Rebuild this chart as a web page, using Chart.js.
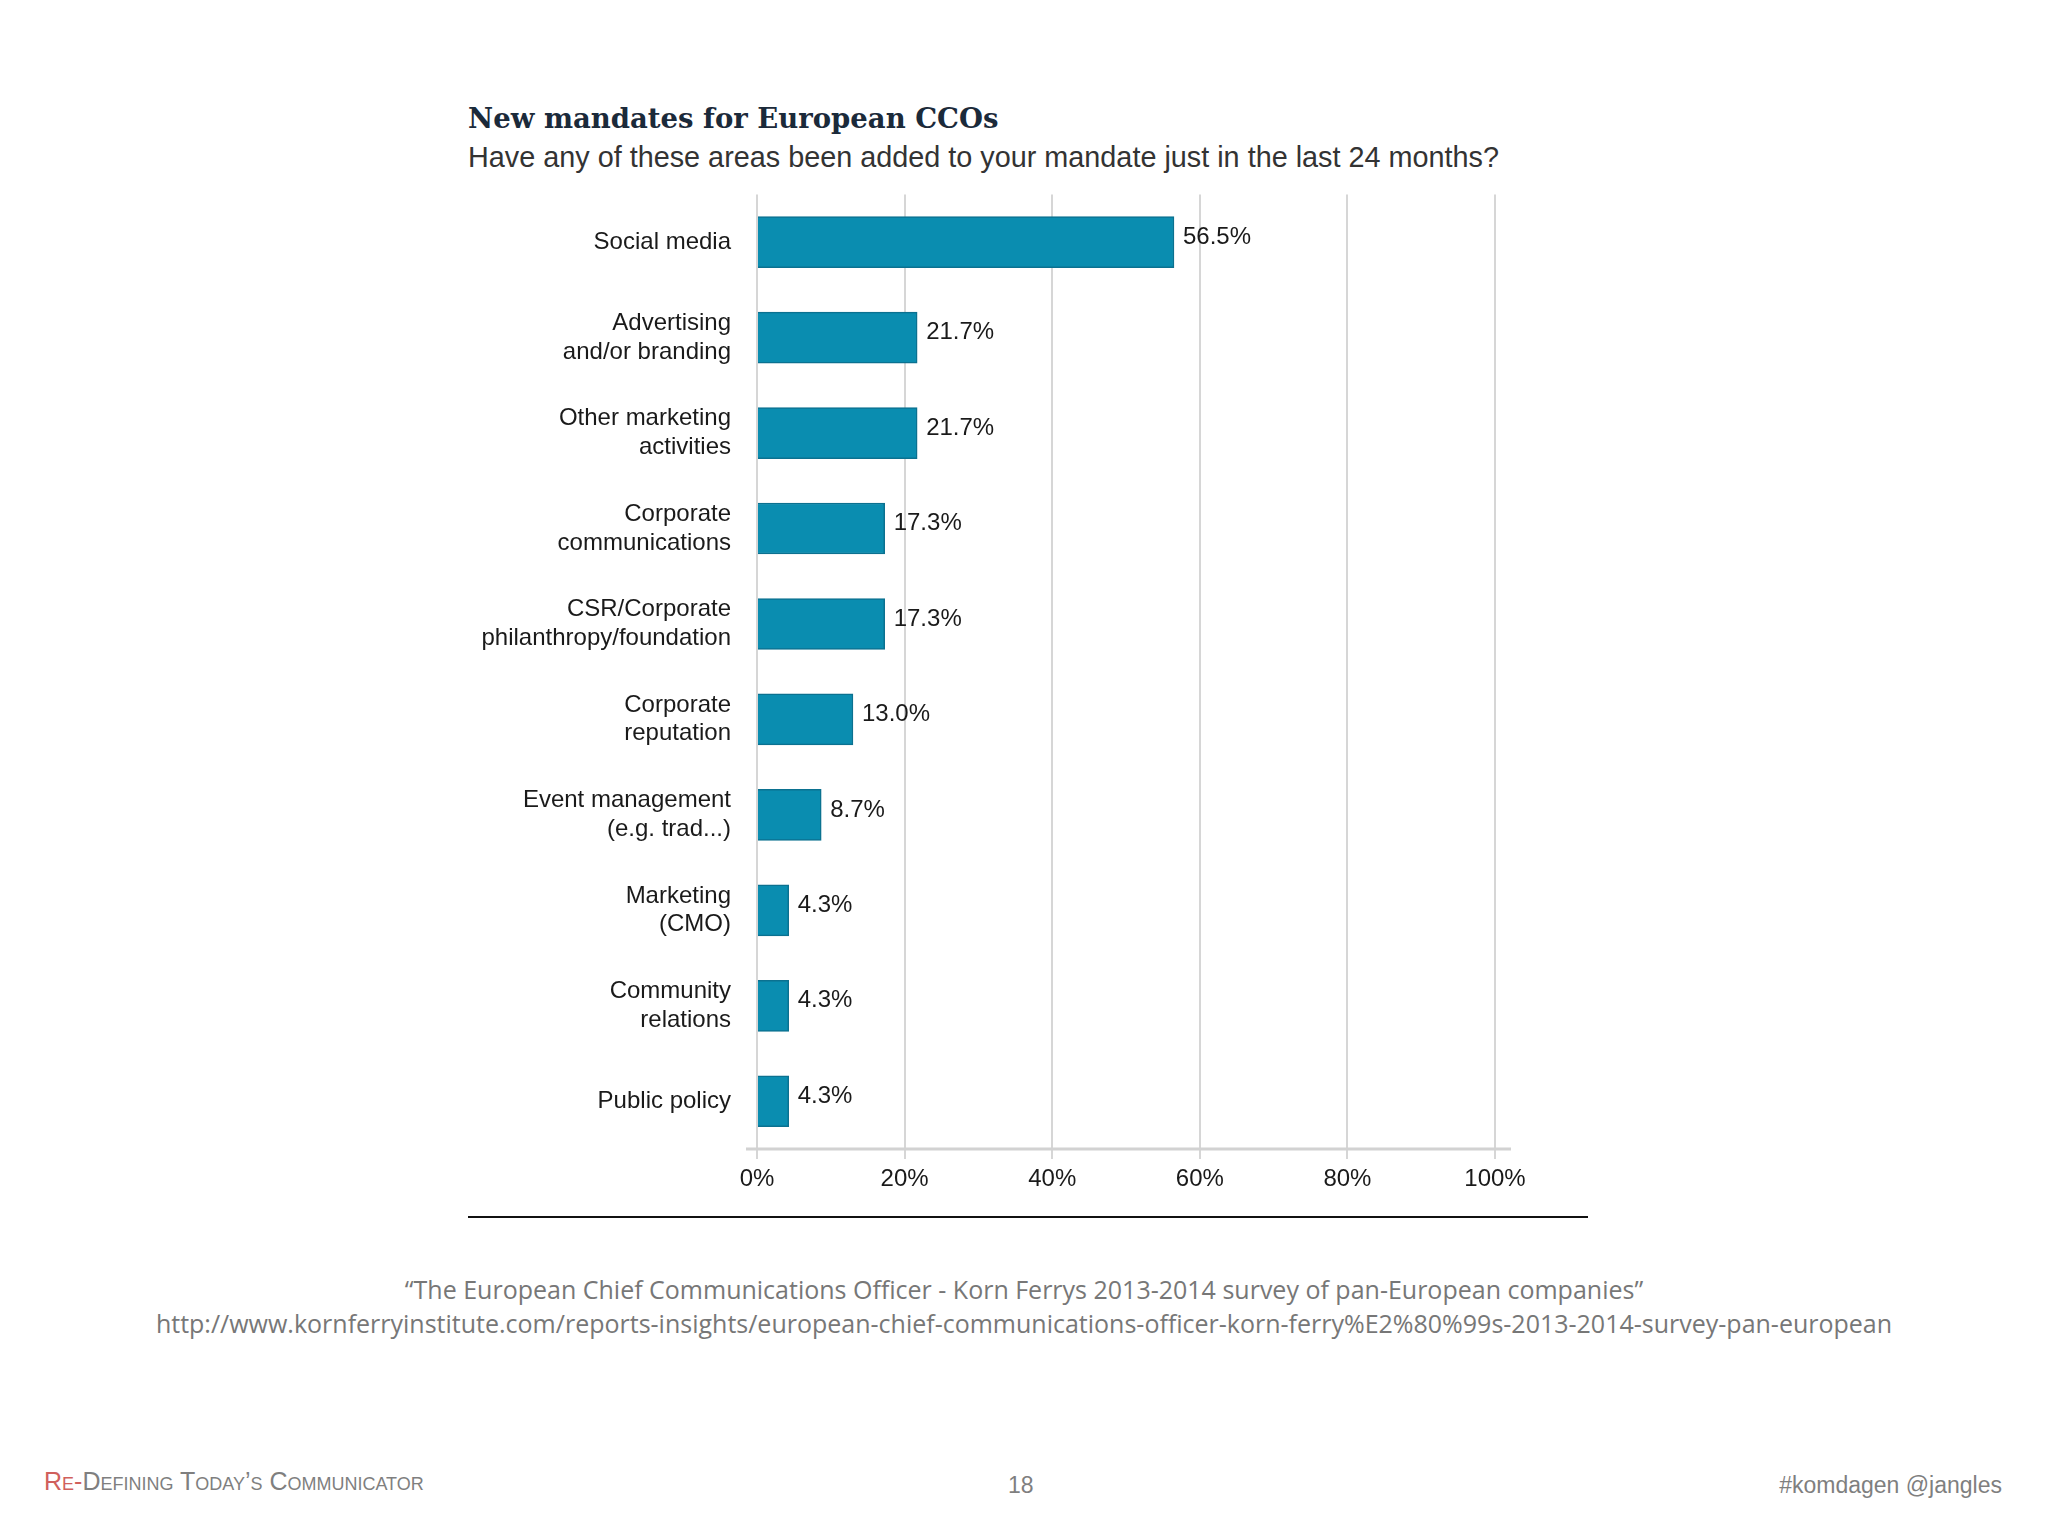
<!DOCTYPE html>
<html>
<head>
<meta charset="utf-8">
<script src="https://cdn.jsdelivr.net/npm/chart.js@4"></script>
<style>
  html, body { margin: 0; padding: 0; background: #fff; }
  body { width: 2048px; height: 1536px; position: relative; overflow: hidden; }
  .abs { position: absolute; white-space: nowrap; }
  #title { left: 468px; top: 102px; font: bold 27.5px "DejaVu Serif", serif; color: #1b2a3a; }
  #subtitle { left: 468px; top: 143px; font: 28.8px "Liberation Sans", Arial, sans-serif; color: #333; line-height: 1; }
  #chartBox { left: 440px; top: 154px; width: 1200px; height: 1056px; }
  #rule { left: 468px; top: 1216px; width: 1120px; height: 2px; background: #111; }
  .source { left: 0; width: 2048px; text-align: center; font: 25px "Open Sans", sans-serif; color: #777; }
  #footLeft { left: 44px; top: 1467px; font: 25px "Liberation Sans Narrow", "Liberation Sans", sans-serif; font-variant: small-caps; color: #7f7f7f; }
  #footLeft span { color: #d0605c; }
  #pageNum { left: 1008px; top: 1472px; font: 23px "Liberation Sans", sans-serif; color: #7f7f7f; }
  #footRight { right: 46px; top: 1472px; font: 23px "Liberation Sans", sans-serif; color: #7f7f7f; }
</style>
</head>
<body>
<div id="title" class="abs">New mandates for European CCOs</div>
<div id="subtitle" class="abs">Have any of these areas been added to your mandate just in the last 24 months?</div>
<div id="chartBox" class="abs"><canvas id="barChart" width="1200" height="1056"></canvas></div>
<div id="rule" class="abs"></div>
<div class="abs source" style="top:1272px">“The European Chief Communications Officer - Korn Ferrys 2013-2014 survey of pan-European companies”</div>
<div class="abs source" style="top:1306px">http://www.kornferryinstitute.com/reports-insights/european-chief-communications-officer-korn-ferry%E2%80%99s-2013-2014-survey-pan-european</div>
<div id="footLeft" class="abs"><span>Re-</span>Defining Today’s Communicator</div>
<div id="pageNum" class="abs">18</div>
<div id="footRight" class="abs">#komdagen @jangles</div>

<script>
const categories = [
    ['Social media'],
    ['Advertising', 'and/or branding'],
    ['Other marketing', 'activities'],
    ['Corporate', 'communications'],
    ['CSR/Corporate', 'philanthropy/foundation'],
    ['Corporate', 'reputation'],
    ['Event management', '(e.g. trad...)'],
    ['Marketing', '(CMO)'],
    ['Community', 'relations'],
    ['Public policy']
];
const shares = [56.5, 21.7, 21.7, 17.3, 17.3, 13.0, 8.7, 4.3, 4.3, 4.3];
const xTicks = [0, 20, 40, 60, 80, 100];

const labelFont = { family: '"Liberation Sans", Arial, sans-serif', size: 24 };

// value labels to the right of each bar
const valueLabels = {
    id: 'valueLabels',
    afterDatasetsDraw(chart) {
        const ctx = chart.ctx;
        const meta = chart.getDatasetMeta(0);
        ctx.save();
        ctx.font = '24px "Liberation Sans", Arial, sans-serif';
        ctx.fillStyle = '#1a1a1a';
        ctx.textAlign = 'left';
        ctx.textBaseline = 'middle';
        meta.data.forEach((bar, i) => {
            ctx.fillText(shares[i].toFixed(1) + '%', bar.x + 9, bar.y - 5);
        });
        ctx.restore();
    }
};

// bottom axis line, a little wider than the plot
const baseLine = {
    id: 'baseLine',
    beforeDatasetsDraw(chart) {
        const a = chart.chartArea;
        const ctx = chart.ctx;
        ctx.save();
        ctx.strokeStyle = '#d2d2d2';
        ctx.lineWidth = 3;
        ctx.beginPath();
        ctx.moveTo(a.left - 11, a.bottom);
        ctx.lineTo(a.right + 16, a.bottom);
        ctx.stroke();
        ctx.restore();
    }
};

function renderBarChart() {
    const ctx = document.getElementById('barChart').getContext('2d');

    new Chart(ctx, {
        type: 'bar',
        data: {
            labels: categories,
            datasets: [{
                data: shares,
                backgroundColor: '#0a8db0',
                borderColor: '#0b7190',
                borderWidth: 1.5,
                barThickness: 51
            }]
        },
        options: {
            indexAxis: 'y',
            responsive: false,
            animation: false,
            layout: { padding: { left: 27, right: 145, top: 29, bottom: 17 } },
            scales: {
                x: {
                    min: 0,
                    max: 100,
                    afterBuildTicks: function(scale) {
                        scale.ticks = xTicks.map(v => ({ value: v }));
                    },
                    afterFit: function(scale) { scale.height = 44; },
                    grid: {
                        color: '#d6d6d6',
                        lineWidth: 2,
                        tickLength: 10,
                        tickColor: '#d6d6d6'
                    },
                    border: { display: false },
                    ticks: {
                        padding: 6,
                        color: '#1a1a1a',
                        font: labelFont,
                        callback: function(value) { return value + '%'; }
                    }
                },
                y: {
                    afterFit: function(scale) { scale.width = 290; },
                    grid: { display: false, drawTicks: false },
                    border: { display: false },
                    ticks: {
                        padding: 26,
                        color: '#1a1a1a',
                        font: Object.assign({ lineHeight: 1.2 }, labelFont)
                    }
                }
            },
            plugins: {
                legend: { display: false },
                tooltip: { enabled: false }
            }
        },
        plugins: [baseLine, valueLabels]
    });
}

renderBarChart();
</script>
</body>
</html>
